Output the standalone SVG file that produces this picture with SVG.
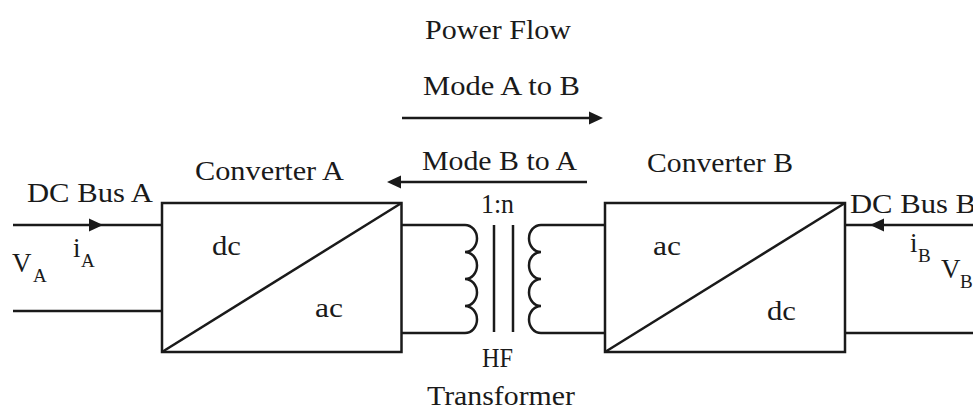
<svg xmlns="http://www.w3.org/2000/svg" width="973" height="411" viewBox="0 0 973 411">
<style>
  .w { fill: none; stroke: #1a1a1a; stroke-width: 2.5; }
  .box { fill: #ffffff; stroke: #1a1a1a; stroke-width: 2.5; }
  .t { font-family: "Liberation Serif", "Times New Roman", serif; font-size: 27px; fill: #1a1a1a; }
  .s { font-family: "Liberation Serif", "Times New Roman", serif; font-size: 19px; fill: #1a1a1a; }
  .ah { fill: #1a1a1a; }
</style>
<defs>
  <path id="ah" class="ah" d="M0,0 L-14,-6.5 L-14,6.5 Z"/>
</defs>
<rect width="973" height="411" fill="#ffffff"/>

<g id="connectors">
  <!-- DC bus A -->
  <line class="w" x1="13" y1="225" x2="162" y2="225"/>
  <line class="w" x1="13" y1="311" x2="162" y2="311"/>
  <use href="#ah" transform="translate(103,225)"/>
  <!-- A to transformer primary -->
  <path class="w" d="M401,225 H465 A12,13.5 0 0 1 465,252 A12,13.5 0 0 1 465,279 A12,13.5 0 0 1 465,306 A12,13.5 0 0 1 465,333 H401"/>
  <!-- secondary to B -->
  <path class="w" d="M605,225 H541 A12,13.5 0 0 0 541,252 A12,13.5 0 0 0 541,279 A12,13.5 0 0 0 541,306 A12,13.5 0 0 0 541,333 H605"/>
  <!-- core -->
  <line class="w" x1="494" y1="225" x2="494" y2="332"/>
  <line class="w" x1="513" y1="225" x2="513" y2="332"/>
  <!-- DC bus B -->
  <line class="w" x1="845" y1="225" x2="973" y2="225"/>
  <line class="w" x1="845" y1="333" x2="973" y2="333"/>
  <use href="#ah" transform="translate(870,225) rotate(180)"/>
  <!-- power flow arrows -->
  <line class="w" x1="402" y1="118" x2="592" y2="118"/>
  <use href="#ah" transform="translate(603,118)"/>
  <line class="w" x1="587" y1="182" x2="397" y2="182"/>
  <use href="#ah" transform="translate(387,182) rotate(180)"/>
</g>

<g id="converter-a">
  <rect class="box" x="162" y="203" width="239.5" height="149"/>
  <line class="w" x1="162" y1="352" x2="401.5" y2="203"/>
  <text class="t" x="195" y="180" textLength="149" lengthAdjust="spacingAndGlyphs">Converter A</text>
  <text class="t" x="212" y="255" textLength="29" lengthAdjust="spacingAndGlyphs">dc</text>
  <text class="t" x="315" y="317" textLength="28" lengthAdjust="spacingAndGlyphs">ac</text>
</g>

<g id="converter-b">
  <rect class="box" x="605" y="203" width="240" height="149"/>
  <line class="w" x1="605" y1="352" x2="845" y2="203"/>
  <text class="t" x="647" y="172" textLength="146" lengthAdjust="spacingAndGlyphs">Converter B</text>
  <text class="t" x="653" y="255" textLength="28" lengthAdjust="spacingAndGlyphs">ac</text>
  <text class="t" x="767" y="320" textLength="29" lengthAdjust="spacingAndGlyphs">dc</text>
</g>

<g id="transformer">
  <text class="t" x="481" y="213" textLength="33" lengthAdjust="spacingAndGlyphs">1:n</text>
  <text class="t" x="482" y="367" textLength="31" lengthAdjust="spacingAndGlyphs">HF</text>
  <text class="t" x="427" y="405" textLength="148" lengthAdjust="spacingAndGlyphs">Transformer</text>
</g>

<g id="power-flow">
  <text class="t" x="425" y="39" textLength="146" lengthAdjust="spacingAndGlyphs">Power Flow</text>
  <text class="t" x="423" y="95" textLength="157" lengthAdjust="spacingAndGlyphs">Mode A to B</text>
  <text class="t" x="422" y="170" textLength="155" lengthAdjust="spacingAndGlyphs">Mode B to A</text>
</g>

<g id="dc-bus-a">
  <text class="t" x="27" y="202" textLength="126" lengthAdjust="spacingAndGlyphs">DC Bus A</text>
  <text class="t" x="12" y="272">V</text>
  <text class="s" x="33" y="282">A</text>
  <text class="t" x="73" y="257">i</text>
  <text class="s" x="81" y="267">A</text>
</g>

<g id="dc-bus-b">
  <text class="t" x="850" y="213" textLength="126" lengthAdjust="spacingAndGlyphs">DC Bus B</text>
  <text class="t" x="910" y="252">i</text>
  <text class="s" x="918" y="262">B</text>
  <text class="t" x="941" y="278">V</text>
  <text class="s" x="960" y="288">B</text>
</g>
</svg>
